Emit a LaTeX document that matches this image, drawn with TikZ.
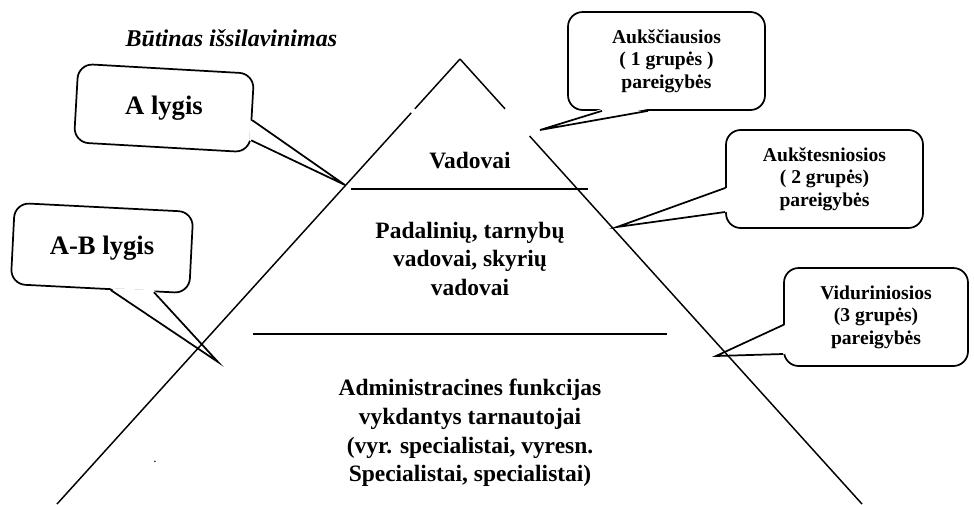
\documentclass[tikz,border=0pt]{standalone}
\usepackage{fontspec}
\setmainfont{Liberation Serif}
\usetikzlibrary{calc}

\begin{document}
\begin{tikzpicture}[x=0.75pt,y=-0.75pt,
  bubble/.style={draw,line width=1.3pt,fill=white,rounded corners=11pt,align=center,
    minimum width=147.75pt,minimum height=73.5pt,font=\fontsize{14.7}{16.9}\selectfont\bfseries},
  lygisbox/.style={draw,line width=1.3pt,fill=white,rounded corners=11pt,
    font=\fontsize{20}{24}\selectfont\bfseries},
  ptr/.style={line width=1.3pt},
  level/.style={align=center,font=\fontsize{17.6}{21.4}\selectfont\bfseries},
  side/.style={line width=1.1pt},
  bar/.style={line width=1.8pt}]

\useasboundingbox (0,0) rectangle (974,504);

\node[font=\fontsize{18}{22}\selectfont\bfseries\itshape,anchor=base west] (title) at (121,46) {Būtinas išsilavinimas};

\node[lygisbox,rotate=-3.25,minimum width=132pt,minimum height=59pt] (alyg) at (164,108) {\rotatebox{3.25}{A lygis}};
\node[lygisbox,rotate=-2.9,minimum width=134pt,minimum height=61pt] (ablyg) at (102,248) {\rotatebox{2.9}{A-B lygis}};

\node[bubble] (auk1) at (666.5,61) {Aukščiausios\\( 1 grupės )\\pareigybės};
\node[bubble] (auk2) at (824.5,179) {Aukštesniosios\\( 2 grupės)\\pareigybės};
\node[bubble,minimum width=138pt] (vid) at (876,317) {Viduriniosios\\(3 grupės)\\pareigybės};

\coordinate (altip) at (345,185);
\coordinate (abtip) at (218,362);
\coordinate (a1tip) at (540,130);
\coordinate (a2tip) at (617,227);
\coordinate (vidtip) at (716,356);

\fill[white] ($(alyg.east)!0.18!(alyg.south east)+(-2,0)$) -- (altip) -- ($(alyg.east)!0.68!(alyg.south east)+(-2,0)$) -- cycle;
\draw[ptr] ($(alyg.east)!0.18!(alyg.south east)$) -- (altip) -- ($(alyg.east)!0.68!(alyg.south east)$);

\fill[white] ($(ablyg.south)!0.12!(ablyg.south east)+(0,-2)$) -- (abtip) -- ($(ablyg.south)!0.6!(ablyg.south east)+(0,-2)$) -- cycle;
\draw[ptr] ($(ablyg.south)!0.12!(ablyg.south east)$) -- (abtip) -- ($(ablyg.south)!0.6!(ablyg.south east)$);

\fill[white] ($(auk1.south)+(-64.5,-2)$) -- (a1tip) -- ($(auk1.south)+(-18.5,-2)$) -- cycle;
\draw[ptr] ($(auk1.south)+(-64.5,0)$) -- (a1tip) -- ($(auk1.south)+(-18.5,0)$);

\fill[white] ($(auk2.west)+(2,9)$) -- (a2tip) -- ($(auk2.west)+(2,33)$) -- cycle;
\draw[ptr] ($(auk2.west)+(0,9)$) -- (a2tip) -- ($(auk2.west)+(0,33)$);

\fill[white] ($(vid.west)+(2,8)$) -- (vidtip) -- ($(vid.west)+(2,37)$) -- cycle;
\draw[ptr] ($(vid.west)+(0,8)$) -- (vidtip) -- ($(vid.west)+(0,37)$);

\coordinate (apex) at (460,59);
\coordinate (bl) at (57,504);
\coordinate (br) at (862,504);
\coordinate (h1l) at (351,189);
\coordinate (h1r) at (588,189);
\coordinate (h2l) at (253,334);
\coordinate (h2r) at (667,334);

\draw[side] (apex) -- ($(apex)!0.112!(bl)$) ($(apex)!0.121!(bl)$) -- (bl);
\draw[side] (apex) -- ($(apex)!0.112!(br)$) ($(apex)!0.173!(br)$) -- (br);
\draw[bar] (h1l) -- (h1r);
\draw[bar] (h2l) -- (h2r);

\node[level] (vad) at (470,161) {Vadovai};
\node[level] (pad) at (470,258.5) {Padalinių, tarnybų\\vadovai, skyrių\\vadovai};
\node[level] (adm) at (470,433) {Administracines funkcijas\\vykdantys tarnautojai\\(vyr. specialistai, vyresn.\\Specialistai, specialistai)};
\node[font=\fontsize{10}{12}\selectfont] (dot) at (155,462) {.};

\end{tikzpicture}
\end{document}
